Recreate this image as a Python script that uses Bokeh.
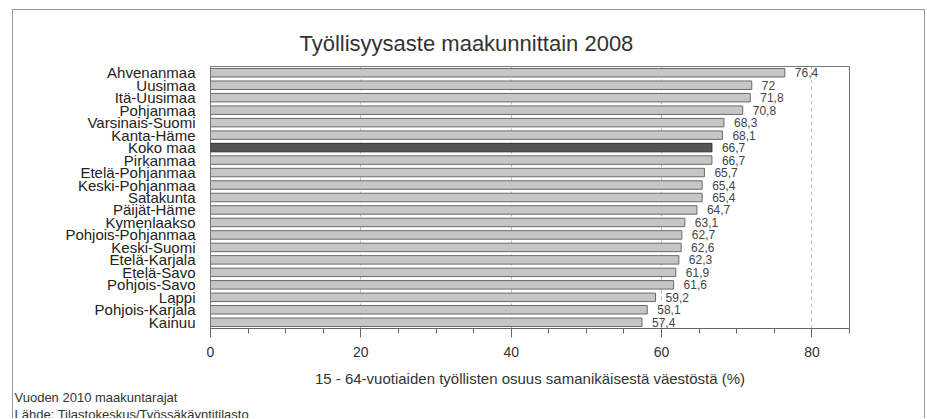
from bokeh.plotting import figure
from bokeh.models import ColumnDataSource, LabelSet, Title, FactorRange, Range1d, SingleIntervalTicker
from bokeh.embed import file_html
from bokeh.resources import INLINE
from bokeh.core.properties import value

# ---- data ----
regions = ["Ahvenanmaa", "Uusimaa", "Itä-Uusimaa", "Pohjanmaa", "Varsinais-Suomi",
           "Kanta-Häme", "Koko maa", "Pirkanmaa", "Etelä-Pohjanmaa", "Keski-Pohjanmaa",
           "Satakunta", "Päijät-Häme", "Kymenlaakso", "Pohjois-Pohjanmaa", "Keski-Suomi",
           "Etelä-Karjala", "Etelä-Savo", "Pohjois-Savo", "Lappi", "Pohjois-Karjala", "Kainuu"]
rates = [76.4, 72, 71.8, 70.8, 68.3, 68.1, 66.7, 66.7, 65.7, 65.4, 65.4, 64.7,
         63.1, 62.7, 62.6, 62.3, 61.9, 61.6, 59.2, 58.1, 57.4]
highlight = "Koko maa"

title_text = "Työllisyysaste maakunnittain 2008"
x_label = "15 - 64-vuotiaiden työllisten osuus samanikäisestä väestöstä (%)"
note1 = "Vuoden 2010 maakuntarajat"
note2 = "Lähde: Tilastokeskus/Työssäkäyntitilasto"

FONT = "Liberation Sans"

labels = [f"{v:g}".replace(".", ",") for v in rates]
fills = ["#545454" if r == highlight else "#c6c6c6" for r in regions]
edges = ["#303030" if r == highlight else "#6a6a6a" for r in regions]

src = ColumnDataSource(dict(region=regions, rate=rates, label=labels, fill=fills, edge=edges))

p = figure(width=913, height=409,
           y_range=FactorRange(*reversed(regions), range_padding=0),
           x_range=Range1d(0, 85),
           output_backend="svg", toolbar_location=None,
           min_border_left=197, min_border_right=77, min_border_top=56, min_border_bottom=90)
p.margin = (9, 0, 0, 12)
p.styles = {"border-left": "1px solid #9a9a9a",
            "border-top": "1px solid #9a9a9a",
            "border-right": "1px solid #9a9a9a"}

p.hbar(y="region", right="rate", left=0, height=0.68, source=src,
       fill_color="fill", line_color="edge", line_width=1)

# title
p.title.text = title_text
p.title.align = "left"
p.title.offset = 89
p.title.text_font = FONT
p.title.text_font_size = "22px"
p.title.text_font_style = "normal"
p.title.text_color = "#333333"
p.title.standoff = 21

# x axis
p.xaxis.ticker = SingleIntervalTicker(interval=20, num_minor_ticks=4)
p.xaxis.axis_label = x_label
p.xaxis.axis_label_text_font = FONT
p.xaxis.axis_label_text_font_size = "15px"
p.xaxis.axis_label_text_font_style = "normal"
p.xaxis.axis_label_text_color = "#333333"
p.xaxis.axis_label_standoff = 10
p.xaxis.major_label_text_font = FONT
p.xaxis.major_label_text_font_size = "14px"
p.xaxis.major_label_text_color = "#333333"
p.xaxis.major_label_standoff = 9
p.xaxis.axis_line_color = "#666666"
p.xaxis.major_tick_line_color = "#666666"
p.xaxis.minor_tick_line_color = "#666666"
p.xaxis.major_tick_in = 0
p.xaxis.major_tick_out = 9
p.xaxis.minor_tick_in = 0
p.xaxis.minor_tick_out = 5

# y axis
p.yaxis.axis_line_color = None
p.yaxis.major_tick_line_color = None
p.yaxis.minor_tick_line_color = None
p.yaxis.major_label_standoff = 9
p.yaxis.major_label_text_font = FONT
p.yaxis.major_label_text_font_size = "15px"
p.yaxis.major_label_text_color = "#222222"

# grid
p.xgrid.grid_line_color = "#bdbdbd"
p.xgrid.grid_line_dash = "4 3"
p.ygrid.grid_line_color = None
p.outline_line_color = "#777777"

# value labels
p.add_layout(LabelSet(x="rate", y="region", text="label", source=src, x_offset=10,
                      text_baseline="middle", text_font=value(FONT), text_font_size="12px",
                      text_color="#444444"))

# footnotes (two lines in one block at the bottom-left)
p.add_layout(Title(text=note1 + "\n" + note2, align="left", offset=-196, text_font=FONT,
                   text_font_size="13px", text_font_style="normal",
                   text_line_height=1.1, text_color="#333333", standoff=-4), "below")

p.background_fill_color = "white"
p.border_fill_color = "white"

open("out.html", "w").write(file_html(p, INLINE))
